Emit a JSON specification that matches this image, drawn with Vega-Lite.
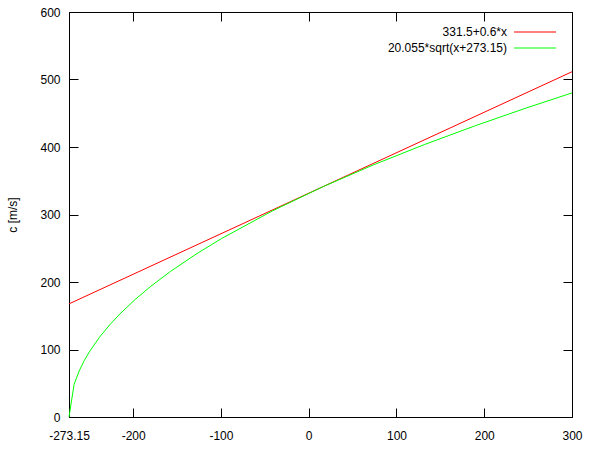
{
  "$schema": "https://vega.github.io/schema/vega-lite/v6.json",
  "width": 503,
  "height": 405,
  "autosize": {"type": "none"},
  "padding": {"left": 69, "top": 12, "right": 18, "bottom": 32},
  "background": "white",
  "config": {
    "font": "Liberation Sans",
    "view": {"stroke": "black", "strokeWidth": 1},
    "axis": {"grid": false, "domain": false, "labelFont": "Liberation Sans", "labelFontSize": 12, "labelColor": "#000", "tickColor": "#000", "tickSize": -9, "labelFlush": false, "labelOverlap": false, "labelExpr": "'' + datum.value"}
  },
  "data": {"values": [
    {"series": "331.5+0.6*x", "x": -273.15, "c": 167.61},
    {"series": "331.5+0.6*x", "x": 300, "c": 511.5},
    {"series": "20.055*sqrt(x+273.15)", "x": -273.15, "c": 0},
    {"series": "20.055*sqrt(x+273.15)", "x": -267.36, "c": 48.25},
    {"series": "20.055*sqrt(x+273.15)", "x": -261.57, "c": 68.24},
    {"series": "20.055*sqrt(x+273.15)", "x": -255.78, "c": 83.58},
    {"series": "20.055*sqrt(x+273.15)", "x": -249.99, "c": 96.51},
    {"series": "20.055*sqrt(x+273.15)", "x": -238.41, "c": 118.2},
    {"series": "20.055*sqrt(x+273.15)", "x": -226.84, "c": 136.48},
    {"series": "20.055*sqrt(x+273.15)", "x": -215.26, "c": 152.59},
    {"series": "20.055*sqrt(x+273.15)", "x": -197.89, "c": 173.98},
    {"series": "20.055*sqrt(x+273.15)", "x": -180.52, "c": 193.02},
    {"series": "20.055*sqrt(x+273.15)", "x": -157.36, "c": 215.8},
    {"series": "20.055*sqrt(x+273.15)", "x": -128.41, "c": 241.27},
    {"series": "20.055*sqrt(x+273.15)", "x": -99.47, "c": 264.3},
    {"series": "20.055*sqrt(x+273.15)", "x": -41.58, "c": 305.19},
    {"series": "20.055*sqrt(x+273.15)", "x": 16.32, "c": 341.21},
    {"series": "20.055*sqrt(x+273.15)", "x": 74.21, "c": 373.78},
    {"series": "20.055*sqrt(x+273.15)", "x": 132.11, "c": 403.73},
    {"series": "20.055*sqrt(x+273.15)", "x": 190.0, "c": 431.6},
    {"series": "20.055*sqrt(x+273.15)", "x": 247.9, "c": 457.79},
    {"series": "20.055*sqrt(x+273.15)", "x": 300, "c": 480.13}
  ]},
  "resolve": {"axis": {"x": "independent", "y": "independent"}},
  "layer": [
    {
      "mark": {"type": "line", "opacity": 0},
      "encoding": {
        "x": {"field": "x", "type": "quantitative", "scale": {"domain": [-273.15, 300], "nice": false, "zero": false},
              "axis": {"orient": "top", "title": null, "labels": false, "values": [-273.15, -200, -100, 0, 100, 200, 300]}},
        "y": {"field": "c", "type": "quantitative", "scale": {"domain": [0, 600], "nice": false},
              "axis": {"orient": "right", "title": null, "labels": false, "values": [0, 100, 200, 300, 400, 500, 600]}},
        "detail": {"field": "series"}
      }
    },
    {
      "mark": {"type": "line", "strokeWidth": 1},
      "encoding": {
        "x": {"field": "x", "type": "quantitative", "scale": {"domain": [-273.15, 300], "nice": false, "zero": false},
              "axis": {"orient": "bottom", "title": null, "values": [-273.15, -200, -100, 0, 100, 200, 300], "labelPadding": 22}},
        "y": {"field": "c", "type": "quantitative", "scale": {"domain": [0, 600], "nice": false},
              "axis": {"orient": "left", "title": "c [m/s]", "titleFont": "Liberation Sans", "titleFontSize": 12, "titleFontWeight": "normal", "titlePadding": 20, "values": [0, 100, 200, 300, 400, 500, 600], "labelPadding": 18}},
        "color": {"field": "series", "type": "nominal",
                  "scale": {"domain": ["331.5+0.6*x", "20.055*sqrt(x+273.15)"], "range": ["#ff0000", "#00ff00"]},
                  "legend": {"title": null, "orient": "none", "legendX": 458, "legendY": 12, "symbolType": "M-3,0H3", "symbolSize": 196, "symbolStrokeWidth": 1, "labelAlign": "right", "labelOffset": -36, "labelFont": "Liberation Sans", "labelFontSize": 12, "labelColor": "#000", "labelLimit": 300, "padding": 0, "rowPadding": 2,
                             "encode": {"symbols": {"update": {"stroke": {"scale": "color", "field": "value"}, "fill": {"value": "transparent"}, "strokeOpacity": {"value": 1}, "opacity": {"value": 1}, "strokeWidth": {"value": 1.2}}}}}}
      }
    }
  ]
}
